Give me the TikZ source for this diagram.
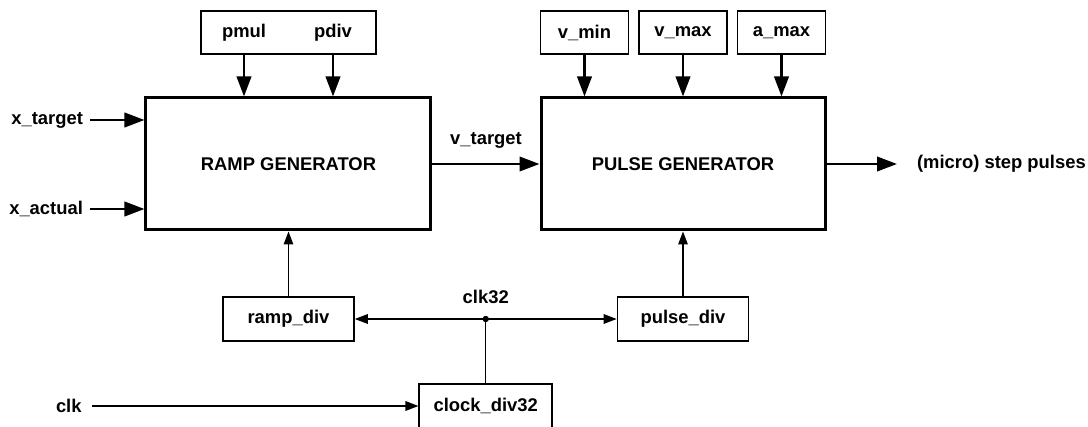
\documentclass[tikz,border=0pt]{standalone}
\usepackage{fontspec}
\setmainfont{Liberation Sans}
\usepackage{tikz}
\usetikzlibrary{shapes,arrows.meta,calc}
\tikzstyle{block} = [rectangle, minimum width=142.5pt, minimum height=66pt, text centered, draw=black, line width=1.5pt]
\tikzstyle{param} = [rectangle, minimum width=44pt, minimum height=21.5pt, text centered, draw=black, line width=0.8pt]
\tikzstyle{divider} = [rectangle, minimum width=65.5pt, minimum height=22pt, text centered, draw=black, line width=0.8pt]
\tikzstyle{arrow} = [line width=1.3pt,-{Triangle[length=10pt,width=7.2pt]}]
\tikzstyle{thinarrow} = [line width=0.6pt,-{Triangle[length=6.5pt,width=4.8pt]}]
\tikzstyle{wire} = [line width=0.6pt]
\begin{document}
\begin{tikzpicture}[node distance=77.5pt, font=\fontsize{9.2}{11}\selectfont\bfseries]
    \useasboundingbox (-144.25pt,-131.5pt) rectangle (399.75pt,82pt);
    \node (ramp) [block] {RAMP GENERATOR};
    \node (pulse) [block, right of=ramp, xshift=119.75pt, minimum width=142pt] {PULSE GENERATOR};

    \node (params) [param, above of=ramp, yshift=-11.75pt, minimum width=87.5pt] {};
    \node (pmul) [left of=params, xshift=55.25pt] {pmul};
    \node (pdiv) [right of=params, xshift=-55.25pt] {pdiv};

    \node (vmax) [param, above of=pulse, yshift=-11.75pt] {v\_max};
    \node (vmin) [param, left of=vmax, xshift=28.25pt] {v\_min};
    \node (amax) [param, right of=vmax, xshift=-28.25pt] {a\_max};

    \node (rampdiv) [divider, below of=ramp] {ramp\_div};
    \node (pulsediv) [divider, below of=pulse] {pulse\_div};
    \coordinate (clk32) at ($(rampdiv)!0.5!(pulsediv)$);
    \node (clk32lbl) [above of=clk32, yshift=-66.5pt] {clk32};
    \node (clockdiv) [divider, below of=clk32, yshift=34pt, minimum width=66.5pt] {clock\_div32};

    \node (xtarget) [anchor=east] at (-99.25pt,22pt) {x\_target};
    \node (xactual) [anchor=east] at (-99.25pt,-22.5pt) {x\_actual};
    \node (clk) [anchor=east, inner xsep=5pt] at (-98.25pt,-121pt) {clk};
    \node (steps) [anchor=west] at (310.75pt,0) {(micro) step pulses};

    \draw [arrow] (xtarget) -- (xtarget -| ramp.west);
    \draw [arrow] (xactual) -- (xactual -| ramp.west);
    \draw [arrow] (ramp) -- node[anchor=south, yshift=4pt] {v\_target} (pulse);
    \draw [arrow, shorten >=6.5pt] (pulse) -- (steps);
    \draw [arrow] (pmul |- params.south) -- (pmul |- ramp.north);
    \draw [arrow] (pdiv |- params.south) -- (pdiv |- ramp.north);
    \draw [arrow] (vmin) -- (vmin |- pulse.north);
    \draw [arrow] (vmax) -- (vmax |- pulse.north);
    \draw [arrow] (amax) -- (amax |- pulse.north);

    \draw [thinarrow] (rampdiv) -- (ramp);
    \draw [thinarrow] (pulsediv) -- (pulse);
    \draw [thinarrow] (clk32) -- (rampdiv);
    \draw [thinarrow] (clk32) -- (pulsediv);
    \draw [wire] (clockdiv) -- (clk32);
    \draw [thinarrow] (clk) -- (clockdiv);
    \fill (clk32) circle (1.6pt);
\end{tikzpicture}
\end{document}
